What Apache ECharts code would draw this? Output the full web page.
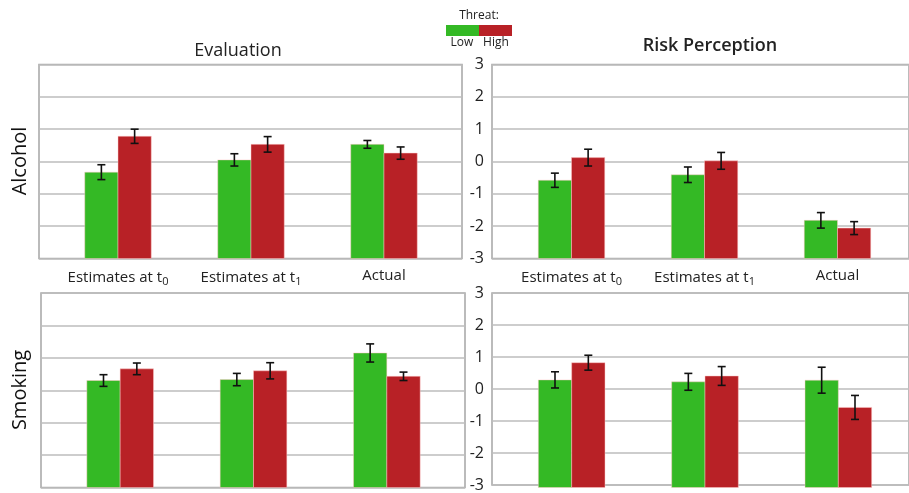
<!DOCTYPE html>
<html>
<head>
<meta charset="utf-8">
<script src="https://cdn.jsdelivr.net/npm/echarts@6/dist/echarts.min.js"></script>
<style>html,body{margin:0;padding:0;background:#fff}#c{width:909px;height:493px}</style>
</head>
<body>
<div id="c"></div>
<script>
// ---- data ----
const categories = ['Estimates at t0', 'Estimates at t1', 'Actual'];
const yTicks = [-3, -2, -1, 0, 1, 2, 3];
const levels = ['Low', 'High'];

const evalAlcLow = [-0.33, 0.05, 0.53];
const evalAlcLowErr = [0.23, 0.19, 0.12];
const evalAlcHigh = [0.78, 0.53, 0.26];
const evalAlcHighErr = [0.22, 0.24, 0.19];

const riskAlcLow = [-0.58, -0.41, -1.82];
const riskAlcLowErr = [0.22, 0.24, 0.24];
const riskAlcHigh = [0.12, 0.02, -2.06];
const riskAlcHighErr = [0.26, 0.26, 0.20];

const evalSmkLow = [0.30, 0.33, 1.15];
const evalSmkLowErr = [0.18, 0.19, 0.28];
const evalSmkHigh = [0.66, 0.60, 0.43];
const evalSmkHighErr = [0.18, 0.25, 0.13];

const riskSmkLow = [0.32, 0.26, 0.31];
const riskSmkLowErr = [0.25, 0.26, 0.40];
const riskSmkHigh = [0.85, 0.44, -0.53];
const riskSmkHighErr = [0.23, 0.29, 0.37];

// ---- styles ----
const GREEN = '#34b925';
const RED = '#b82126';
const FONT = '"Open Sans", "Noto Sans", sans-serif';
const GRIDC = '#bcbcbc';
const BORDERC = '#ababab';
const YMIN = yTicks[0], YMAX = yTicks[yTicks.length - 1];

const chart = echarts.init(document.getElementById('c'), null, {renderer: 'canvas'});

const panels = [
  {outer: {left: 39, top: 64.5, width: 423, height: 194}, inner: {left: 51.5, width: 399}, ylab: false, xlab: true,
   low: evalAlcLow, lowErr: evalAlcLowErr, high: evalAlcHigh, highErr: evalAlcHighErr},
  {outer: {left: 492, top: 64.5, width: 430, height: 194}, inner: {left: 505, width: 399}, ylab: true, xlab: true,
   low: riskAlcLow, lowErr: riskAlcLowErr, high: riskAlcHigh, highErr: riskAlcHighErr},
  {outer: {left: 41, top: 293, width: 424, height: 194.5}, inner: {left: 53.5, width: 400}, ylab: false, xlab: false,
   low: evalSmkLow, lowErr: evalSmkLowErr, high: evalSmkHigh, highErr: evalSmkHighErr},
  {outer: {left: 492, top: 293, width: 430, height: 194.5}, inner: {left: 505, width: 400}, ylab: true, xlab: false,
   low: riskSmkLow, lowErr: riskSmkLowErr, high: riskSmkHigh, highErr: riskSmkHighErr}
];

const grid = [], xAxis = [], yAxis = [], series = [];

function makeRender(side, color) {
  return function (params, api) {
    const i = api.value(0), v = api.value(1), e = api.value(2);
    const base = api.coord([i, YMIN]);
    const top = api.coord([i, v]);
    const band = api.size([1, 0])[0];
    const bw = band * 0.25;
    const cx = base[0] + side * bw / 2;
    const hi = api.coord([i, v + e]);
    const lo = api.coord([i, v - e]);
    const cap = 4;
    const lineStyle = {stroke: '#111', lineWidth: 1.6};
    return {
      type: 'group',
      children: [
        {type: 'rect', shape: {x: cx - bw / 2, y: top[1], width: bw, height: base[1] - top[1]},
         style: {fill: color, stroke: 'rgba(255,200,200,0.6)', lineWidth: 0.8}},
        {type: 'line', shape: {x1: cx, y1: hi[1], x2: cx, y2: lo[1]}, style: lineStyle},
        {type: 'line', shape: {x1: cx - cap, y1: hi[1], x2: cx + cap, y2: hi[1]}, style: lineStyle},
        {type: 'line', shape: {x1: cx - cap, y1: lo[1], x2: cx + cap, y2: lo[1]}, style: lineStyle}
      ]
    };
  };
}

panels.forEach((p, k) => {
  const gOuter = grid.length;
  grid.push(Object.assign({show: true, borderColor: BORDERC, borderWidth: 1.6, backgroundColor: '#fff'}, p.outer));
  const gInner = grid.length;
  grid.push({left: p.inner.left, width: p.inner.width, top: p.outer.top, height: p.outer.height});

  xAxis.push({gridIndex: gOuter, type: 'value', min: 0, max: 1, show: false});
  yAxis.push({gridIndex: gOuter, type: 'value', min: YMIN, max: YMAX, interval: 1,
    axisLine: {show: false}, axisTick: {show: false},
    splitLine: {show: true, lineStyle: {color: GRIDC, width: 1.6}},
    axisLabel: {show: p.ylab, color: '#222', fontSize: 16, fontFamily: FONT, margin: 8}});
  const xi = xAxis.length;
  xAxis.push({gridIndex: gInner, type: 'category', data: categories,
    axisLine: {show: false}, axisTick: {show: false}, splitLine: {show: false},
    axisLabel: {show: p.xlab, interval: 0, hideOverlap: false, color: '#222', fontSize: 15, fontFamily: FONT, margin: 10,
      formatter: function (s) {
        const m = s.match(/^(.*t)(\d)$/);
        return m ? m[1] + '{sub|' + m[2] + '}' : s;
      },
      rich: {sub: {fontSize: 11, fontFamily: FONT, color: '#222', verticalAlign: 'bottom', padding: [8, 0, 0, 0]}}
    }});
  const yi = yAxis.length;
  yAxis.push({gridIndex: gInner, type: 'value', min: YMIN, max: YMAX, interval: 1, show: false, splitLine: {show: false}});

  series.push({type: 'custom', name: levels[0], xAxisIndex: xi, yAxisIndex: yi,
    renderItem: makeRender(-1, GREEN), data: categories.map((c, i) => [i, p.low[i], p.lowErr[i]]), z: 5});
  series.push({type: 'custom', name: levels[1], xAxisIndex: xi, yAxisIndex: yi,
    renderItem: makeRender(1, RED), data: categories.map((c, i) => [i, p.high[i], p.highErr[i]]), z: 5});
});

chart.setOption({
  animation: false,
  backgroundColor: '#fff',
  title: [
    {text: 'Evaluation', left: 233, top: 37, textAlign: 'center',
     textStyle: {fontFamily: FONT, fontSize: 18, fontWeight: 'normal', color: '#222'}},
    {text: 'Risk Perception', left: 705, top: 32, textAlign: 'center',
     textStyle: {fontFamily: FONT, fontSize: 18, fontWeight: 600, color: '#222'}}
  ],
  grid: grid,
  xAxis: xAxis,
  yAxis: yAxis,
  series: series,
  graphic: [
    {type: 'text', x: 479, y: 16, style: {text: 'Threat:', fontFamily: FONT, fontSize: 12, fill: '#222', textAlign: 'center', textVerticalAlign: 'middle'}},
    {type: 'rect', shape: {x: 446, y: 25, width: 33, height: 11}, style: {fill: GREEN}},
    {type: 'rect', shape: {x: 479, y: 25, width: 33, height: 11}, style: {fill: RED}},
    {type: 'text', x: 462, y: 43, style: {text: levels[0], fontFamily: FONT, fontSize: 12, fill: '#222', textAlign: 'center', textVerticalAlign: 'middle'}},
    {type: 'text', x: 496, y: 43, style: {text: levels[1], fontFamily: FONT, fontSize: 12, fill: '#222', textAlign: 'center', textVerticalAlign: 'middle'}},
    {type: 'text', x: 20, y: 161, rotation: Math.PI / 2, style: {text: 'Alcohol', fontFamily: FONT, fontSize: 20, fill: '#111', textAlign: 'center', textVerticalAlign: 'middle'}},
    {type: 'text', x: 20, y: 390, rotation: Math.PI / 2, style: {text: 'Smoking', fontFamily: FONT, fontSize: 20, fill: '#111', textAlign: 'center', textVerticalAlign: 'middle'}}
  ]
});
</script>
</body>
</html>
